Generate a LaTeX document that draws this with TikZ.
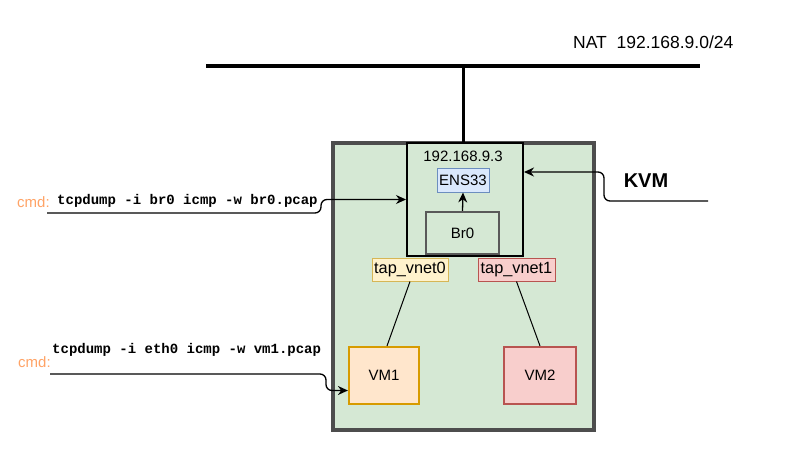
\documentclass[tikz,border=0pt]{standalone}
\usepackage{fontspec}
\setmainfont{Liberation Sans}
\newfontfamily\cmdfont{Liberation Mono}
\usetikzlibrary{arrows.meta}
\definecolor{kvmfill}{HTML}{D5E8D4}
\definecolor{kvmborder}{HTML}{4D4D4D}
\definecolor{brborder}{HTML}{595959}
\definecolor{ensfill}{HTML}{DAE8FC}
\definecolor{ensborder}{HTML}{6C8EBF}
\definecolor{tapyfill}{HTML}{FFF2CC}
\definecolor{tapyborder}{HTML}{D6B656}
\definecolor{redfill}{HTML}{F8CECC}
\definecolor{redborder}{HTML}{B85450}
\definecolor{vmofill}{HTML}{FFE6CC}
\definecolor{vmoborder}{HTML}{D79B00}
\definecolor{cmdcolor}{HTML}{FFA366}
\tikzset{
  box/.style={draw, rectangle, inner sep=0pt, font=\fontsize{15}{18}\selectfont},
  lbl/.style={inner sep=0pt, font=\fontsize{15}{18}\selectfont},
  cmdlbl/.style={inner sep=0pt, text=cmdcolor, font=\fontsize{15}{18}\selectfont},
  cmdtxt/.style={inner sep=0pt, font=\cmdfont\bfseries\fontsize{14}{16}\selectfont},
  conn/.style={line width=1.3pt, rounded corners=6pt, -{Stealth[length=10pt,width=9pt]}},
  thin/.style={line width=1pt},
}
\begin{document}
\begin{tikzpicture}[x=1pt,y=-1pt]
\useasboundingbox (0,0) rectangle (806,469);
% NAT bus
\coordinate (natL) at (206,66);
\coordinate (natR) at (700,66);
\coordinate (natJ) at (463,66);
\draw[line width=3.5pt] (natL) -- (natR);
\node[lbl, font=\fontsize{17.5}{20}\selectfont, anchor=west] (natlbl) at (573,42) {NAT\ \ 192.168.9.0/24};
% KVM host
\node[box, fill=kvmfill, draw=kvmborder, line width=4.5pt, minimum width=261pt, minimum height=287pt] (outer) at (463.5,286.5) {};
\node[box, fill=kvmfill, draw=black, line width=2pt, minimum width=116pt, minimum height=113pt] (inner) at (465,199.5) {};
\draw[line width=3pt] (natJ) -- (natJ |- inner.north);
\node[lbl] (ip) at (463,156) {192.168.9.3};
\node[box, fill=ensfill, draw=ensborder, line width=1pt, minimum width=52pt, minimum height=24pt] (ens) at (463,180) {ENS33};
\node[box, fill=kvmfill, draw=brborder, line width=2.2pt, minimum width=73pt, minimum height=42pt] (br) at (462.5,233) {Br0};
\draw[line width=1.3pt, -{Stealth[length=10pt,width=9pt]}] (br.north) -- (ens.south);
\node[box, fill=tapyfill, draw=tapyborder, line width=1pt, minimum width=76pt, minimum height=23pt, font=\fontsize{16.3}{19}\selectfont] (tap0) at (410,269.5) {tap\_vnet0};
\node[box, fill=redfill, draw=redborder, line width=1pt, minimum width=77pt, minimum height=23pt, font=\fontsize{16.3}{19}\selectfont] (tap1) at (516.5,269.5) {tap\_vnet1};
\node[box, fill=vmofill, draw=vmoborder, line width=2.2pt, minimum width=70pt, minimum height=57pt] (vm1) at (384,375.5) {VM1};
\node[box, fill=redfill, draw=redborder, line width=2.2pt, minimum width=72pt, minimum height=57pt] (vm2) at (540,375.5) {VM2};
\draw[thin] (tap0.south) -- ([xshift=3pt]vm1.north);
\draw[thin] (tap1.south) -- (vm2.north);
% KVM label
\node[lbl, font=\bfseries\fontsize{20}{24}\selectfont] (kvm) at (646,181) {KVM};
\coordinate (kstart) at (708,201);
\draw[conn] (kstart) -- ++(-104,0) |- ([yshift=27.5pt]inner.east);
% cmd 1
\node[cmdlbl, anchor=west] (cmd1) at (17,202) {cmd:};
\node[cmdtxt, anchor=west] (ct1) at (57,201) {tcpdump -i br0 icmp -w br0.pcap};
\coordinate (c1) at (47,213);
\draw[conn] (c1) -- ++(274,0) |- (inner.west);
% cmd 2
\node[cmdlbl, anchor=west] (cmd2) at (18,362) {cmd:};
\node[cmdtxt, anchor=west] (ct2) at (52,350) {tcpdump -i eth0 icmp -w vm1.pcap};
\coordinate (c2) at (50,374);
\draw[conn] (c2) -- ++(276,0) |- ([yshift=-15pt]vm1.west);
\end{tikzpicture}
\end{document}
